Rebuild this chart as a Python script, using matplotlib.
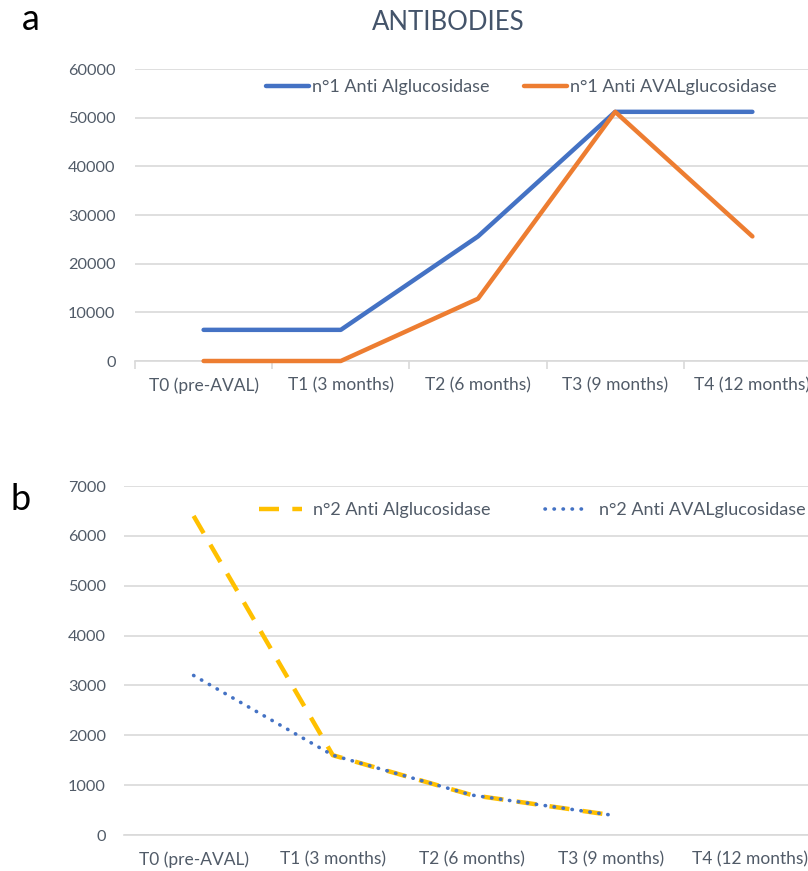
import matplotlib.pyplot as plt

categories = ["T0 (pre-AVAL)", "T1 (3 months)", "T2 (6 months)", "T3 (9 months)", "T4 (12 months)"]

a_algluco = [6400, 6400, 25600, 51200, 51200]
a_aval = [0, 0, 12800, 51200, 25600]

b_algluco = [6400, 1600, 800, 400]
b_aval = [3200, 1600, 800, 400]

plt.rcParams['font.family'] = ['Lato', 'DejaVu Sans']
tick_col = '#515B68'
grid_col = '#D9D9D9'

fig = plt.figure(figsize=(8.08, 8.71), dpi=100)
W, H = 808, 871

def setup(ax, ymax, step, ticks, ypad):
    ax.set_xlim(-0.5, len(categories) - 0.5)
    ax.set_ylim(0, ymax)
    ax.set_yticks(range(0, ymax + 1, step))
    ax.set_xticks(range(len(categories)))
    ax.set_xticklabels(categories)
    for s in ['top', 'right', 'left']:
        ax.spines[s].set_visible(False)
    ax.spines['bottom'].set_color(grid_col)
    ax.spines['bottom'].set_linewidth(1.2)
    ax.yaxis.grid(True, color=grid_col, lw=1.2)
    ax.set_axisbelow(True)
    ax.tick_params(axis='y', length=0, labelsize=11.7, labelcolor=tick_col, pad=ypad)
    ax.tick_params(axis='x', length=0, labelsize=12.5, labelcolor=tick_col, pad=12)
    if ticks:
        ax.set_xticks([i + 0.5 for i in range(-1, len(categories))], minor=True)
        ax.tick_params(axis='x', which='minor', length=6, color=grid_col, width=1.2)

# panel a
ax1 = fig.add_axes([135 / W, 1 - 361 / H, 686 / W, (361 - 69) / H])
x = range(len(categories))
ax1.plot(x, a_algluco, color='#4472C4', lw=3.2, solid_capstyle='round', clip_on=False, zorder=3,
         label='n°1 Anti Alglucosidase')
ax1.plot(x, a_aval, color='#ED7D31', lw=3.2, solid_capstyle='round', clip_on=False, zorder=3,
         label='n°1 Anti AVALglucosidase')
setup(ax1, 60000, 10000, True, 14)
ax1.legend(loc='center left', bbox_to_anchor=(266 / W, 1 - 87 / H), bbox_transform=fig.transFigure,
           ncol=2, frameon=False, fontsize=13, handlelength=2.4, handletextpad=0.15,
           columnspacing=1.9, labelcolor=tick_col, borderaxespad=0, borderpad=0)

# panel b
ax2 = fig.add_axes([124 / W, 1 - 835 / H, 696 / W, (835 - 486) / H])
xb = range(len(b_algluco))
ax2.plot(xb, b_algluco, color='#FFC000', lw=3.2, linestyle=(0, (4.5, 3)), dash_capstyle='butt',
         zorder=3, label='n°2 Anti Alglucosidase')
ax2.plot(xb, b_aval, color='#4472C4', lw=2.6, linestyle=(0, (0.1, 2.4)), dash_capstyle='round',
         zorder=3, label='n°2 Anti AVALglucosidase')
setup(ax2, 7000, 1000, False, 13)
ax2.legend(loc='center left', bbox_to_anchor=(259 / W, 1 - 510 / H), bbox_transform=fig.transFigure,
           ncol=2, frameon=False, fontsize=13, handlelength=2.4, handletextpad=0.6,
           columnspacing=3.0, labelcolor=tick_col, borderaxespad=0, borderpad=0)

fig.text(448 / W, 1 - 22 / H, 'ANTIBODIES', ha='center', va='center', fontsize=18.5, color='#44546A')
fig.text(31 / W, 1 - 20 / H, 'a', ha='center', va='center', fontsize=26, color='black')
fig.text(21 / W, 1 - 500 / H, 'b', ha='center', va='center', fontsize=26, color='black')

fig.savefig('out.png', dpi=100)
